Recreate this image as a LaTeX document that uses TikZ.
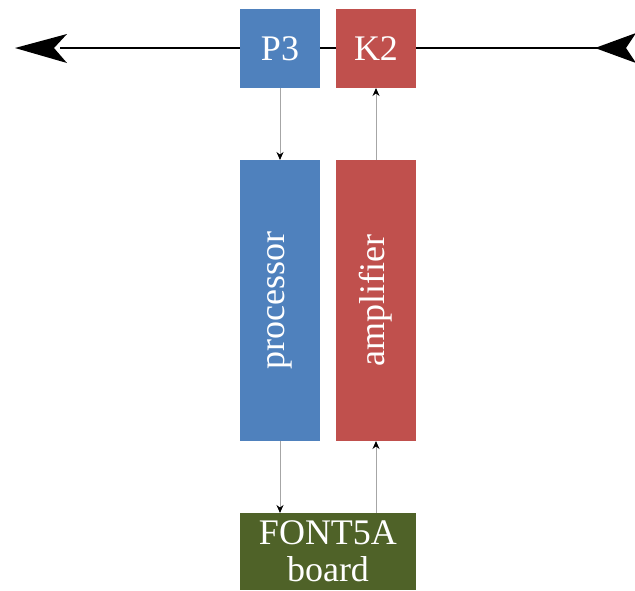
\documentclass[tikz,border=0pt]{standalone}
\usepackage{fontspec}
\setmainfont{Liberation Serif}
\usetikzlibrary{arrows.meta}
\definecolor{cblue}{HTML}{4F81BD}
\definecolor{cred}{HTML}{C0504D}
\definecolor{cgreen}{HTML}{4F6228}
\definecolor{cgray}{HTML}{A6A6A6}
\tikzset{
  blk/.style={draw=none, inner sep=0pt, outer sep=0pt, text=white,
    font=\fontsize{36}{37}\selectfont, align=center},
  conn/.style={draw=cgray, line width=1pt, -{Stealth[length=8pt,width=7pt,black]}},
  beamhead/.style={fill=black, draw=none}
}
\begin{document}
\begin{tikzpicture}[x=1pt,y=-1pt]
\useasboundingbox (0,0) rectangle (635,590);
% beam line
\draw[line width=2.5pt] (60,48) -- (600,48);
\fill[beamhead] (15,48) -- (67,34) -- (54,48) -- (67,63) -- cycle;
\fill[beamhead] (595,48) -- (636,33) -- (626,48) -- (636,63) -- cycle;
% blocks
\node[blk, fill=cblue, minimum width=80pt, minimum height=79pt] (p3) at (280,48.5) {P3};
\node[blk, fill=cred, minimum width=80pt, minimum height=79pt] (k2) at (376,48.5) {K2};
\node[blk, fill=cblue, minimum width=281pt, minimum height=80pt, rotate=90] (proc) at (280,300.5) {processor};
\node[blk, fill=cred, minimum width=281pt, minimum height=80pt, rotate=90] (amp) at (376,300.5) {amplifier};
\node[blk, fill=cgreen, minimum width=176pt, minimum height=77pt] (font) at (328,551.5) {FONT5A\\board};
% connectors
\draw[conn] (p3.south) -- (proc.east);
\draw[conn] (amp.east) -- (k2.south);
\draw[conn] (proc.west) -- (font.north -| proc.west);
\draw[conn] (font.north -| amp.west) -- (amp.west);
\end{tikzpicture}
\end{document}
